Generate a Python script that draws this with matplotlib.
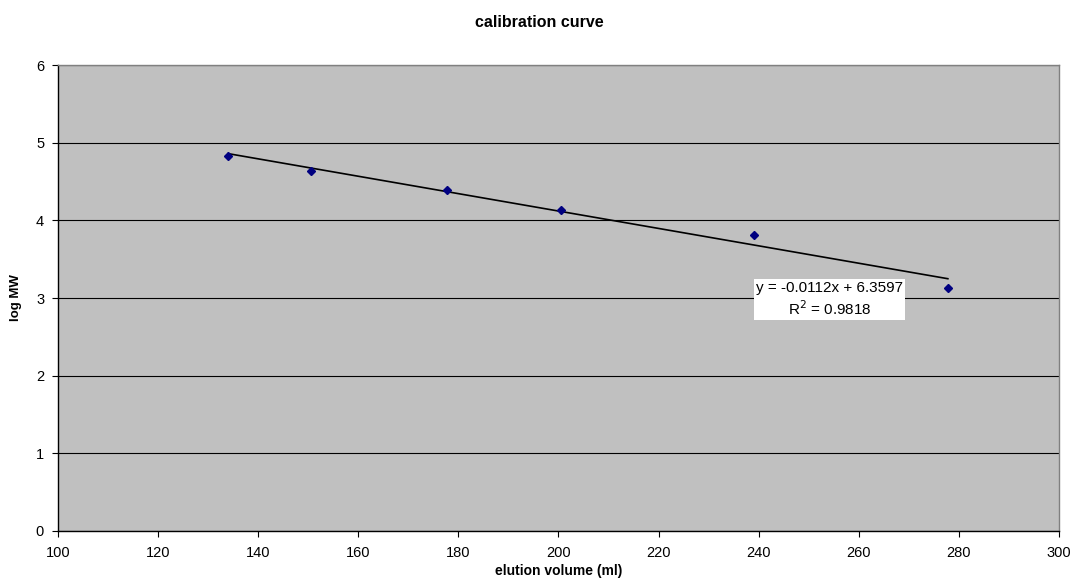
import numpy as np
import matplotlib.pyplot as plt

plt.rcParams['font.family'] = ['Liberation Sans', 'DejaVu Sans']

# data
elution_volume = [134.0, 150.5, 177.8, 200.6, 239.0, 277.8]
log_mw = [4.83, 4.63, 4.39, 4.13, 3.81, 3.13]
slope, intercept = -0.0112, 6.3597
eq_text = "y = -0.0112x + 6.3597\nR$^2$ = 0.9818"

fig = plt.figure(figsize=(10.74, 5.83), dpi=100)
ax = fig.add_axes([0.054, 0.0892, 0.932, 0.7993])
ax.set_facecolor('#c0c0c0')

ax.set_xlim(100, 300)
ax.set_ylim(0, 6)
ax.set_xticks(np.arange(100, 301, 20))
ax.set_yticks(np.arange(0, 7, 1))
ax.grid(axis='y', color='black', linewidth=0.8)
ax.set_axisbelow(True)

for side in ['top', 'right']:
    ax.spines[side].set_color('#808080')
    ax.spines[side].set_linewidth(1)
for side in ['left', 'bottom']:
    ax.spines[side].set_color('black')
    ax.spines[side].set_linewidth(1)

ax.tick_params(direction='out', length=4, width=0.8, labelsize=10.5, colors='black')
ax.tick_params(axis='x', pad=6.5)
ax.tick_params(axis='y', pad=6)

xs = np.array([elution_volume[0], elution_volume[-1]])
ax.plot(xs, slope * xs + intercept, color='black', linewidth=1.2, zorder=2)
ax.plot(elution_volume, log_mw, linestyle='none', marker='D', markersize=4.5,
        color='#000080', zorder=3)

ax.text(254.2, 2.98, eq_text, ha='center', va='center', fontsize=11,
        linespacing=1.3,
        bbox=dict(facecolor='white', edgecolor='none', pad=1.5))

# title is centred on the whole chart, not on the plot area
fig.text(0.502, 0.962, 'calibration curve', ha='center', va='center',
         fontsize=11.5, fontweight='bold')
ax.set_xlabel('elution volume (ml)', fontsize=10, fontweight='bold', labelpad=3.5)
ax.set_ylabel('log MW', fontsize=9.5, fontweight='bold', labelpad=10)

fig.savefig('out.png', dpi=100)
